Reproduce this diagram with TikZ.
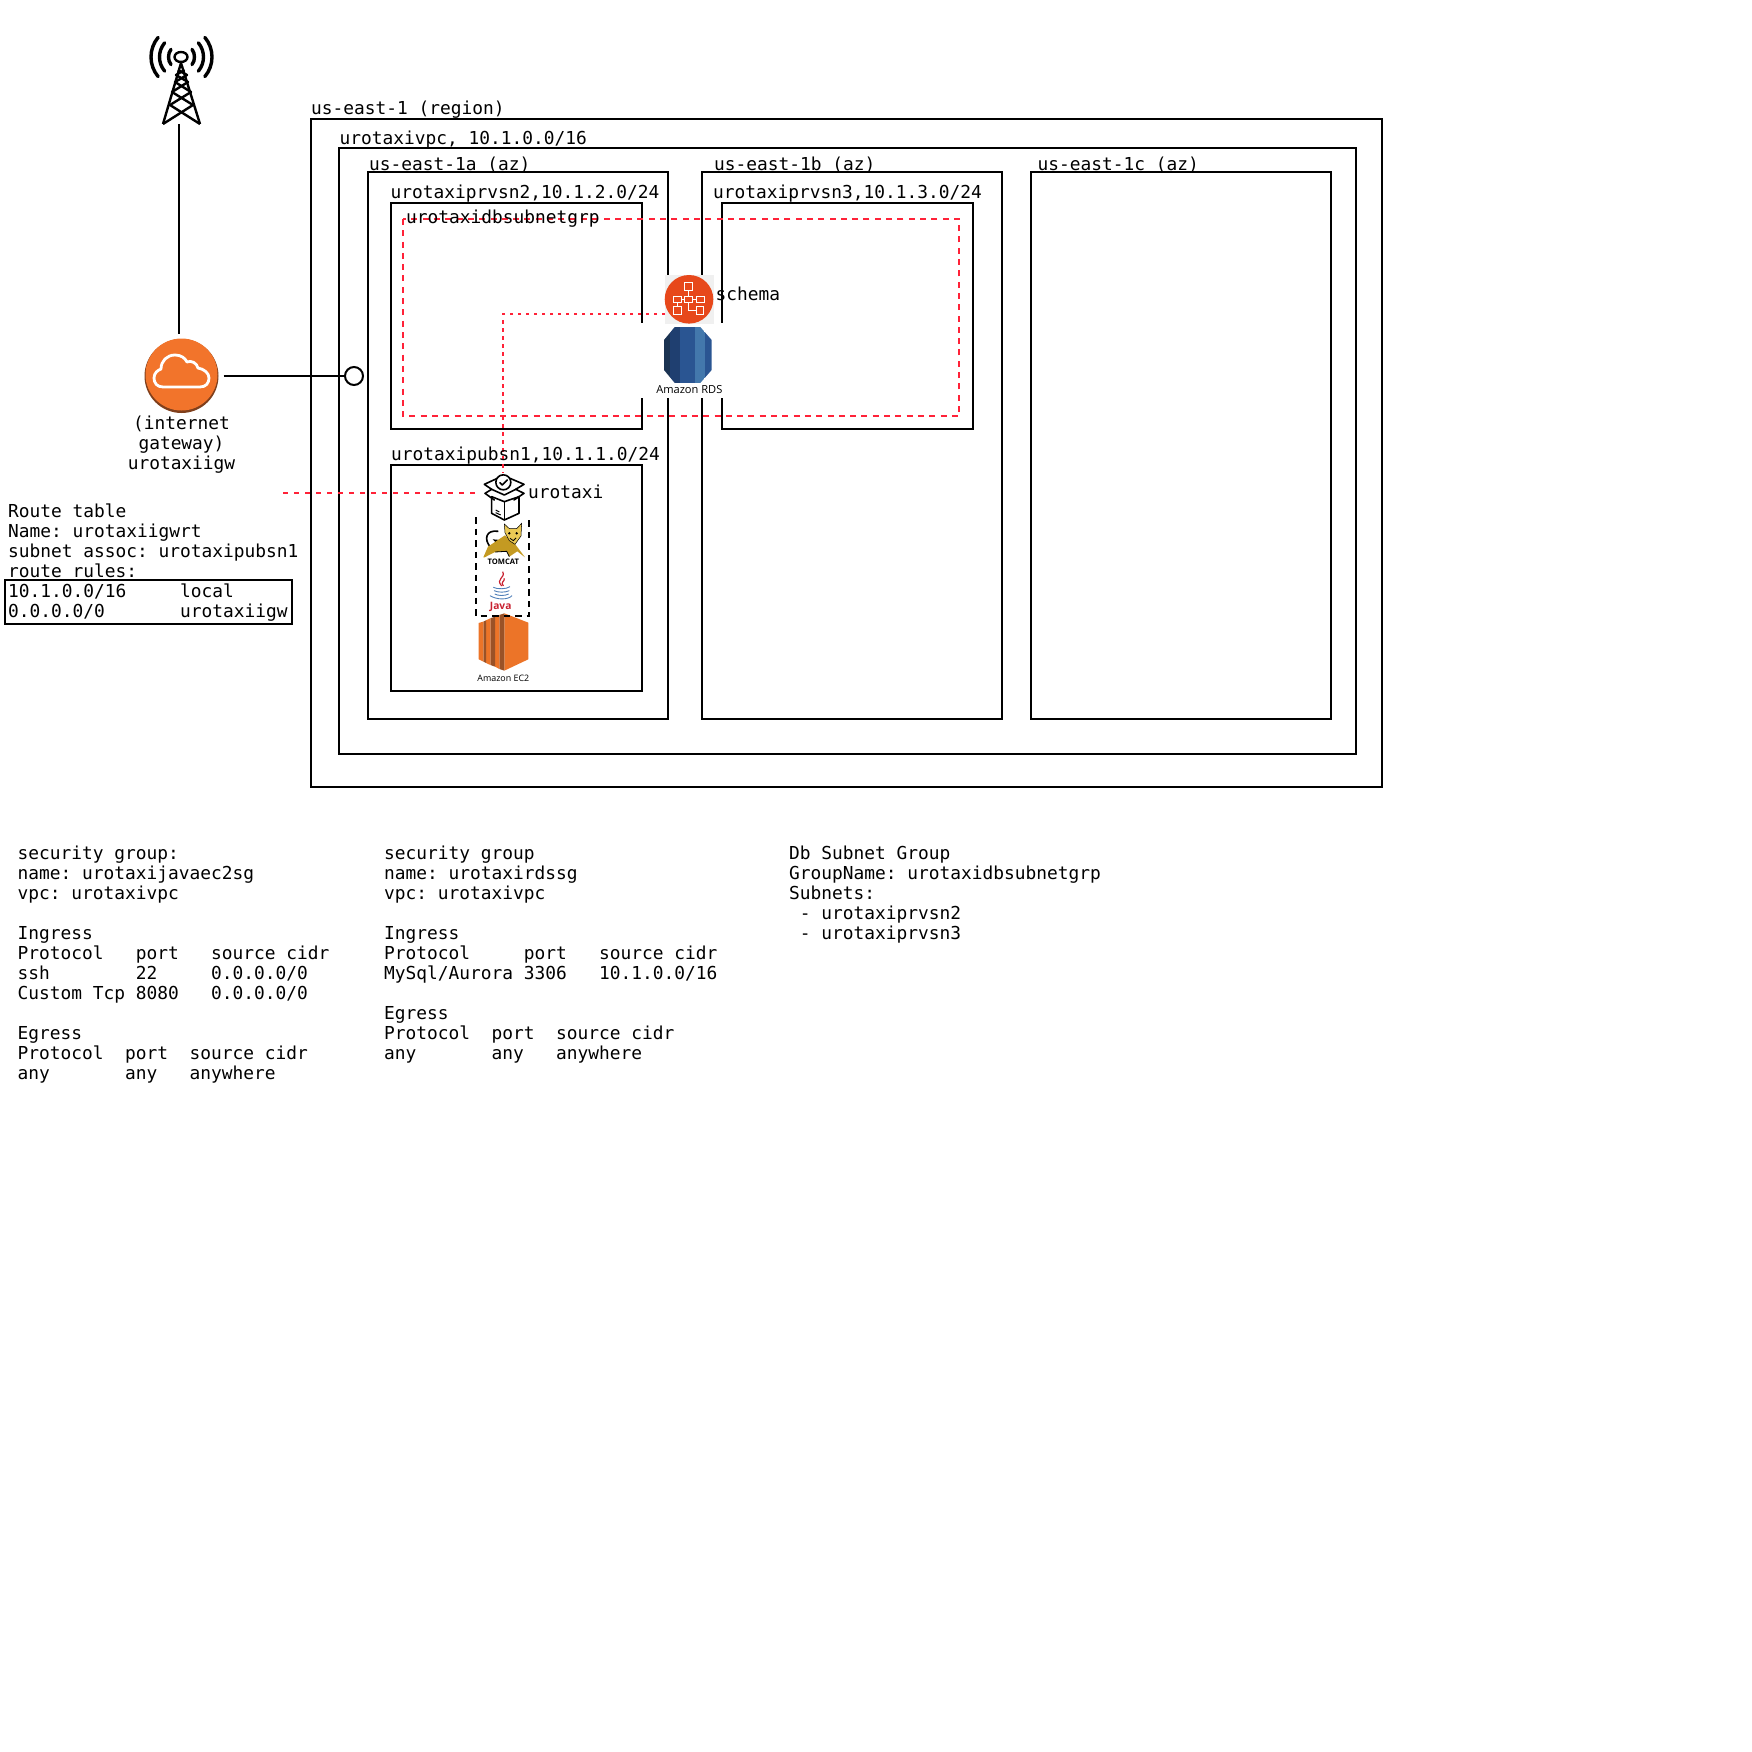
\documentclass[tikz,border=0pt]{standalone}
\usepackage{fontspec}
\setmonofont{DejaVu Sans Mono}
\newfontfamily\iconfont{Open Sans}
\definecolor{dashred}{HTML}{FF2238}
\definecolor{igworange}{HTML}{F2742B}
\definecolor{igwrim}{HTML}{7F3F1C}
\definecolor{schemared}{HTML}{E7481B}
\definecolor{schemabg}{HTML}{F0F0F0}
\definecolor{ecorange}{HTML}{EC7428}
\definecolor{ecbrown}{HTML}{9A5227}
\definecolor{catgold}{HTML}{C49A22}
\definecolor{catface}{HTML}{EBC955}
\definecolor{javared}{HTML}{C8202F}
\definecolor{javablue}{HTML}{4F7FB8}
\definecolor{rdsa}{HTML}{1B3352}
\definecolor{rdsb}{HTML}{1F3F70}
\definecolor{rdsc}{HTML}{2A5592}
\definecolor{rdsd}{HTML}{4378AC}
\tikzset{
	zonebox/.style={draw=black,line width=2pt},
	lbl/.style={anchor=base west,inner sep=0pt,align=left,font=\ttfamily\fontsize{17.85}{20}\selectfont},
	link/.style={draw=black,line width=2pt},
	reddash/.style={draw=dashred,line width=2pt,dash pattern=on 6pt off 5.3pt},
	reddot/.style={draw=dashred,line width=2pt,dash pattern=on 3.5pt off 4.5pt},
	iconline/.style={draw=black,line width=1.6pt,line join=round,line cap=round},
	towerline/.style={draw=black,line width=2.4pt,line join=round},
	wave/.style={draw=black,line width=3.4pt,line cap=round},
	iconlbl/.style={inner sep=0pt,anchor=base,font=\iconfont\fontsize{8.9}{10}\selectfont},
}
\begin{document}
\begin{tikzpicture}[x=1pt,y=-1pt]
	\useasboundingbox (0,0) rectangle (1752,1752);
	% zones
	\draw[zonebox] (311,119) rectangle (1382,787);
	\draw[zonebox] (339,148) rectangle (1356,754);
	\draw[zonebox] (368,172) rectangle (668,719);
	\draw[zonebox] (702,172) rectangle (1002,719);
	\draw[zonebox] (1031,172) rectangle (1331,719);
	\draw[zonebox] (391,203) rectangle (642,429);
	\draw[zonebox] (722,203) rectangle (973,429);
	\draw[zonebox] (391,465) rectangle (642,691);
	\draw[zonebox] (5,580) rectangle (292,624);
	\draw[reddash] (403,219) rectangle (959,416);
	% rds backdrop
	\fill[white] (640,323.5) rectangle (724,398);
	% tower
	\draw[wave] (181.5,57) ++(-36:13) arc (-36:36:13);
	\draw[wave] (181.5,57) ++(-40:22) arc (-40:40:22);
	\draw[wave] (181.5,57) ++(-40:30.5) arc (-40:40:30.5);
	\draw[wave] (181.5,57) ++(144:13) arc (144:216:13);
	\draw[wave] (181.5,57) ++(140:22) arc (140:220:22);
	\draw[wave] (181.5,57) ++(140:30.5) arc (140:220:30.5);
	\draw[towerline] (181,57) ellipse (6.5 and 5);
	\draw[towerline] (181,63) -- (163,124) (181,63) -- (200,124);
	\draw[towerline] (163,124) -- (193,105) -- (172,92) -- (188,82) -- (176,75) -- (184.5,70);
	\draw[towerline] (200,124) -- (170,105) -- (191,92) -- (175,82) -- (187,75) -- (178,70);
	\coordinate (towerbase) at (179,124);
	% internet gateway
	\fill[igwrim] (181.5,376) circle (37);
	\node[circle,fill=igworange,minimum size=72pt,inner sep=0pt] (igwface) at (181.5,374.5) {};
	\node[circle,minimum size=84pt,inner sep=0pt] (igw) at (181.5,376) {};
	\draw[white,line width=2.8pt,line join=round] (163,387) .. controls (157,387) and (154,383) .. (154,378) .. controls (154,373) and (158,370) .. (161,369) .. controls (161,361) and (167,355) .. (175,355) .. controls (181,355) and (185,358) .. (187,362) .. controls (191,360) and (197,363) .. (198,368) .. controls (204,369) and (209,373) .. (209,378) .. controls (209,383) and (206,387) .. (200,387) -- cycle;
	\node[circle,draw=black,line width=2pt,minimum size=18pt,inner sep=0pt] (igwport) at (354,376) {};
	\draw[link] (towerbase) -- (towerbase |- igw.north);
	\draw[link] (igw.east) -- (igwport.west);
	% ec2
	\begin{scope}[shift={(450,450)},x=0.3333pt,y=-0.3333pt]
		\fill[ecorange] (163,490) -- (235,518) -- (235,628) -- (163,662) -- cycle;
		\fill[ecbrown] (148,495) -- (163,490) -- (163,662) -- (148,657) -- cycle;
		\fill[ecorange] (135,500) -- (148,495) -- (148,657) -- (135,650) -- cycle;
		\fill[ecbrown] (121,505) -- (135,500) -- (135,650) -- (121,645) -- cycle;
		\fill[ecorange] (108,511) -- (121,505) -- (121,645) -- (108,639) -- cycle;
		\fill[ecbrown] (100,515) -- (108,511) -- (108,639) -- (100,635) -- cycle;
		\fill[ecorange] (86,519) -- (100,515) -- (100,635) -- (86,628) -- cycle;
		\node[iconlbl] (ectext) at (160,695) {Amazon EC2};
		% tomcat
		\draw[black,line width=1.6pt] (122,292) .. controls (100,268) and (108,238) .. (145,244);
		\fill[black] (128,268) -- (142,282) -- (150,270) -- cycle;
		\fill[catgold] (100,322) -- (114,290) -- (165,256) -- (195,282) -- (225,322) -- (202,304) -- (178,320) -- (170,304) -- (135,306) -- (104,322) -- cycle;
		\draw[black,line width=.8pt] (178,320) -- (170,304) -- (135,306);
		\fill[catface,draw=black,line width=.5pt] (163,222) -- (178,236) -- (200,236) -- (215,220) -- (213,258) -- (195,283) -- (178,272) -- (165,248) -- cycle;
		\fill[black] (178,250) circle (4) (200,250) circle (4);
		\draw[black,line width=.8pt] (180,265) -- (190,272) -- (198,264);
		\node[iconlbl,font=\iconfont\bfseries\fontsize{7.6}{9}\selectfont] (tomcattext) at (160,345) {TOMCAT};
		% java
		\draw[javared,line width=1.2pt] (158,365) .. controls (168,385) and (135,385) .. (155,408);
		\draw[javared,line width=1.2pt] (163,385) .. controls (165,395) and (150,395) .. (160,408);
		\draw[javablue,line width=.9pt] (130,412) .. controls (140,418) and (170,418) .. (180,410);
		\draw[javablue,line width=.9pt] (132,422) .. controls (145,428) and (165,428) .. (178,422);
		\draw[javablue,line width=.9pt] (134,432) .. controls (145,438) and (165,438) .. (176,432);
		\draw[javablue,line width=.9pt] (120,437) .. controls (140,450) and (175,450) .. (186,437);
		\node[iconlbl,text=javared,font=\iconfont\bfseries\fontsize{10.2}{12}\selectfont] (javatext) at (152,480) {Java};
	\end{scope}
	\draw[black,line width=2.2pt,dash pattern=on 6.5pt off 5pt] (476,517) -- (476,616) -- (529,616) -- (529,517);
	% package
	\begin{scope}[shift={(450,450)},x=0.3333pt,y=-0.3333pt]
		\draw[iconline] (125,140) -- (125,190) -- (163,210) -- (207,190) -- (207,140);
		\draw[iconline] (163,155) -- (163,210);
		\draw[iconline] (125,140) -- (163,155) -- (207,140);
		\draw[iconline] (142,85) -- (103,103) -- (125,118) -- (105,130) -- (133,150);
		\draw[iconline] (180,85) -- (222,103) -- (197,118) -- (222,130) -- (192,150);
		\draw[iconline] (125,118) -- (163,135) -- (197,118);
		\node[circle,draw=black,fill=white,line width=1.6pt,minimum size=15pt,inner sep=0pt] (package) at (160,97) {};
		\draw[iconline] (150,98) -- (157,105) -- (172,90);
		\draw[black,line width=1pt] (137,180) -- (148,186) (137,188) -- (152,195);
	\end{scope}
	% rds
	\begin{scope}[shift={(620,260)},x=0.3333pt,y=-0.3333pt]
		\begin{scope}
			\clip (132,240) -- (165,200) -- (240,200) -- (275,240) -- (275,330) -- (240,370) -- (165,370) -- (132,330) -- cycle;
			\fill[rdsa] (132,200) rectangle (150,370);
			\fill[rdsb] (150,200) rectangle (180,370);
			\fill[rdsc] (180,200) rectangle (225,370);
			\fill[rdsd] (225,200) rectangle (255,370);
			\fill[rdsc] (255,200) rectangle (275,370);
		\end{scope}
		\node[iconlbl,font=\iconfont\fontsize{11.1}{12}\selectfont] (rdstext) at (208,400) {Amazon RDS};
	\end{scope}
	% schema
	\fill[schemabg] (665,275) rectangle (714,324);
	\node[circle,fill=schemared,minimum size=48.6pt,inner sep=0pt] (schema) at (689,299.3) {};
	\begin{scope}[shift={(620,260)},x=0.3333pt,y=-0.3333pt,white,line width=.8pt]
		\draw (205,92) -- (205,108) (185,118) -- (193,118) (218,118) -- (228,118) (172,128) -- (172,140) (205,128) -- (205,150) -- (228,150);
		\draw (194,68) rectangle (217,92);
		\draw (194,108) rectangle (217,128);
		\draw (160,108) rectangle (185,128);
		\draw (228,108) rectangle (252,128);
		\draw (160,140) rectangle (185,162);
		\draw (228,140) rectangle (250,162);
	\end{scope}
	% red routes
	\coordinate (schemaleft) at (665,314);
	\coordinate (pkgtop) at (503,473);
	\coordinate (pkgleft) at (480,493);
	\coordinate (rtend) at (283,493);
	\draw[reddot] (schemaleft) -| (pkgtop);
	\draw[reddash,dash pattern=on 5pt off 6pt] (rtend) -- (pkgleft);
	% labels
	\node[lbl] (regionlbl) at (311,115) {us-east-1 (region)};
	\node[lbl] (vpclbl) at (339.5,145) {urotaxivpc, 10.1.0.0/16};
	\node[lbl] (azalbl) at (369,171) {us-east-1a (az)};
	\node[lbl] (azblbl) at (714,171) {us-east-1b (az)};
	\node[lbl] (azclbl) at (1037.5,171) {us-east-1c (az)};
	\node[lbl] (prvtwolbl) at (390.5,199) {urotaxiprvsn2,10.1.2.0/24};
	\node[lbl] (prvthreelbl) at (713,199) {urotaxiprvsn3,10.1.3.0/24};
	\node[lbl] (dbgrplbl) at (406,224) {urotaxidbsubnetgrp};
	\node[lbl] (publbl) at (391,460) {urotaxipubsn1,10.1.1.0/24};
	\node[lbl] (schemalbl) at (715.5,301) {schema};
	\node[lbl] (urotaxilbl) at (528,498) {urotaxi};
	\node[lbl,anchor=north,align=center] (igwlbl) at (181.5,416) {(internet\\gateway)\\urotaxiigw};
	\node[lbl,anchor=north west] (routelbl) at (8,503.3) {Route table\\Name: urotaxiigwrt\\subnet assoc: urotaxipubsn1\\route rules:\\10.1.0.0/16~~~~~local\\0.0.0.0/0~~~~~~~urotaxiigw};
	\node[lbl,anchor=north west] (sgjavalbl) at (17.5,846) {security group:\\name: urotaxijavaec2sg\\vpc: urotaxivpc\\~\\Ingress\\Protocol~~~port~~~source cidr\\ssh~~~~~~~~22~~~~~0.0.0.0/0\\Custom Tcp 8080~~~0.0.0.0/0\\~\\Egress\\Protocol~~port~~source cidr\\any~~~~~~~any~~~anywhere};
	\node[lbl,anchor=north west] (sgrdslbl) at (384,846) {security group\\name: urotaxirdssg\\vpc: urotaxivpc\\~\\Ingress\\Protocol~~~~~port~~~source cidr\\MySql/Aurora 3306~~~10.1.0.0/16\\~\\Egress\\Protocol~~port~~source cidr\\any~~~~~~~any~~~anywhere};
	\node[lbl,anchor=north west] (dbgrouplbl) at (789,846) {Db Subnet Group\\GroupName: urotaxidbsubnetgrp\\Subnets:\\~- urotaxiprvsn2\\~- urotaxiprvsn3};
\end{tikzpicture}
\end{document}
